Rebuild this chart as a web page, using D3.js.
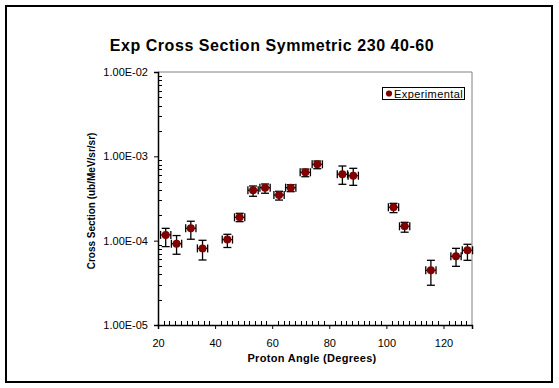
<!DOCTYPE html>
<html><head><meta charset="utf-8">
<script src="https://cdn.jsdelivr.net/npm/d3@7"></script>
<style>body{margin:0;background:#fff}svg{display:block}text{font-family:"Liberation Sans",Arial,sans-serif}</style>
</head><body>
<script>
const angles = [22.7,26.5,31.5,35.6,44.3,48.6,53.3,57.5,62.4,66.5,71.6,75.8,84.6,88.4,102.5,106.4,115.6,124.4,128.4];
const values = [1.17e-4,9.2e-5,1.40e-4,8.1e-5,1.03e-4,1.89e-4,3.96e-4,4.25e-4,3.48e-4,4.25e-4,6.46e-4,8.04e-4,6.12e-4,5.89e-4,2.49e-4,1.48e-4,4.45e-5,6.53e-5,7.69e-5];
const errHigh = [1.40e-4,1.15e-4,1.70e-4,1.01e-4,1.19e-4,2.11e-4,4.45e-4,4.70e-4,3.85e-4,4.61e-4,7.07e-4,8.80e-4,7.68e-4,7.21e-4,2.77e-4,1.65e-4,5.85e-5,8.11e-5,9.06e-5];
const errLow = [8.5e-5,6.9e-5,1.04e-4,5.9e-5,8.3e-5,1.68e-4,3.36e-4,3.65e-4,3.03e-4,3.81e-4,5.73e-4,7.13e-4,4.66e-4,4.53e-4,2.15e-4,1.26e-4,2.96e-5,4.96e-5,5.85e-5];
const angleErr = [1.8,1.8,1.8,1.8,1.8,1.8,1.8,1.8,1.8,1.8,1.8,1.8,1.8,1.8,1.8,1.8,1.8,1.8,1.8];
const xTicks = [20,40,60,80,100,120];
const yTicks = [1e-5,1e-4,1e-3,1e-2];
const yTickLabels = ["1.00E-05","1.00E-04","1.00E-03","1.00E-02"];
const title = "Exp Cross Section Symmetric 230 40-60";
const xTitle = "Proton Angle (Degrees)";
const yTitle = "Cross Section (ub/MeV/sr/sr)";
const legendLabel = "Experimental";

const W=559,H=388;
const L=158,R=472,T=72,B=325;
const red="#800000";
const svg=d3.select("body").append("svg").attr("width",W).attr("height",H);
svg.append("rect").attr("x",6).attr("y",6).attr("width",546).attr("height",376).attr("fill","#fff").attr("stroke","#000").attr("stroke-width",2);

const x=d3.scaleLinear().domain([20,130]).range([L,R]);
const y=d3.scaleLog().domain([1e-5,1e-2]).range([B,T]);

svg.append("line").attr("x1",L).attr("x2",R).attr("y1",T).attr("y2",T).attr("stroke","#808080");
svg.append("line").attr("x1",R).attr("x2",R).attr("y1",T).attr("y2",B).attr("stroke","#808080");

const yAxis=d3.axisLeft(y).tickValues(yTicks).tickFormat((d,i)=>yTickLabels[i]).tickSize(4).tickPadding(6);
const gy=svg.append("g").attr("transform",`translate(${L},0)`).call(yAxis);
gy.select(".domain").attr("stroke","#000").attr("stroke-width",1.5);
gy.selectAll("text").attr("font-size",11).attr("fill","#000");
const minorY=[];
for(let e=-5;e<-2;e++)for(let m=2;m<=9;m++)minorY.push(m*Math.pow(10,e));
svg.append("g").selectAll("line").data(minorY).join("line")
 .attr("x1",L).attr("x2",L+4).attr("y1",d=>Math.round(y(d))+0.5).attr("y2",d=>Math.round(y(d))+0.5).attr("stroke","#000");

const xAxis=d3.axisBottom(x).tickValues(xTicks).tickFormat(d3.format("d")).tickSize(4).tickPadding(10);
const gx=svg.append("g").attr("transform",`translate(0,${B})`).call(xAxis);
gx.select(".domain").attr("stroke","#000").attr("stroke-width",1.5);
gx.selectAll("text").attr("font-size",11).attr("fill","#000");
const minorX=d3.range(22,130,2).filter(v=>v%20!==0);
svg.append("g").selectAll("line").data(minorX).join("line")
 .attr("x1",d=>Math.round(x(d))+0.5).attr("x2",d=>Math.round(x(d))+0.5).attr("y1",B).attr("y2",B-4).attr("stroke","#000");

svg.append("text").attr("x",272).attr("y",51).attr("text-anchor","middle").attr("font-size",16).attr("font-weight","bold").attr("letter-spacing",0.55).text(title);
svg.append("text").attr("x",312).attr("y",362).attr("text-anchor","middle").attr("font-size",11).attr("font-weight","bold").attr("letter-spacing",0.3).text(xTitle);
svg.append("text").attr("transform","translate(95,201) rotate(-90)").attr("text-anchor","middle").attr("font-size",10).attr("font-weight","bold").text(yTitle);

const data=angles.map((a,i)=>({a,v:values[i],hi:errHigh[i],lo:errLow[i],ae:angleErr[i]}));
const g=svg.append("g").attr("stroke","#000").attr("stroke-width",1.3);
data.forEach(d=>{
  const cx=x(d.a),cy=y(d.v);
  g.append("line").attr("x1",cx).attr("x2",cx).attr("y1",y(d.hi)).attr("y2",y(d.lo));
  g.append("line").attr("x1",cx-4).attr("x2",cx+4).attr("y1",y(d.hi)).attr("y2",y(d.hi));
  g.append("line").attr("x1",cx-4).attr("x2",cx+4).attr("y1",y(d.lo)).attr("y2",y(d.lo));
  g.append("line").attr("x1",x(d.a-d.ae)).attr("x2",x(d.a+d.ae)).attr("y1",cy).attr("y2",cy);
  g.append("line").attr("x1",x(d.a-d.ae)).attr("x2",x(d.a-d.ae)).attr("y1",cy-4).attr("y2",cy+4);
  g.append("line").attr("x1",x(d.a+d.ae)).attr("x2",x(d.a+d.ae)).attr("y1",cy-4).attr("y2",cy+4);
});
svg.append("g").selectAll("path").data(data).join("path")
 .attr("d",d3.symbol(d3.symbolCircle,50)())
 .attr("transform",d=>`translate(${x(d.a)},${y(d.v)})`)
 .attr("fill",red);

const lg=svg.append("g");
lg.append("rect").attr("x",382.5).attr("y",87.5).attr("width",82).attr("height",12).attr("fill","#fff").attr("stroke","#000");
lg.append("path").attr("d",d3.symbol(d3.symbolCircle,30)()).attr("transform","translate(389,93.5)").attr("fill",red);
lg.append("text").attr("x",394).attr("y",97.5).attr("font-size",11).attr("letter-spacing",0.4).text(legendLabel);
</script>
</body></html>
